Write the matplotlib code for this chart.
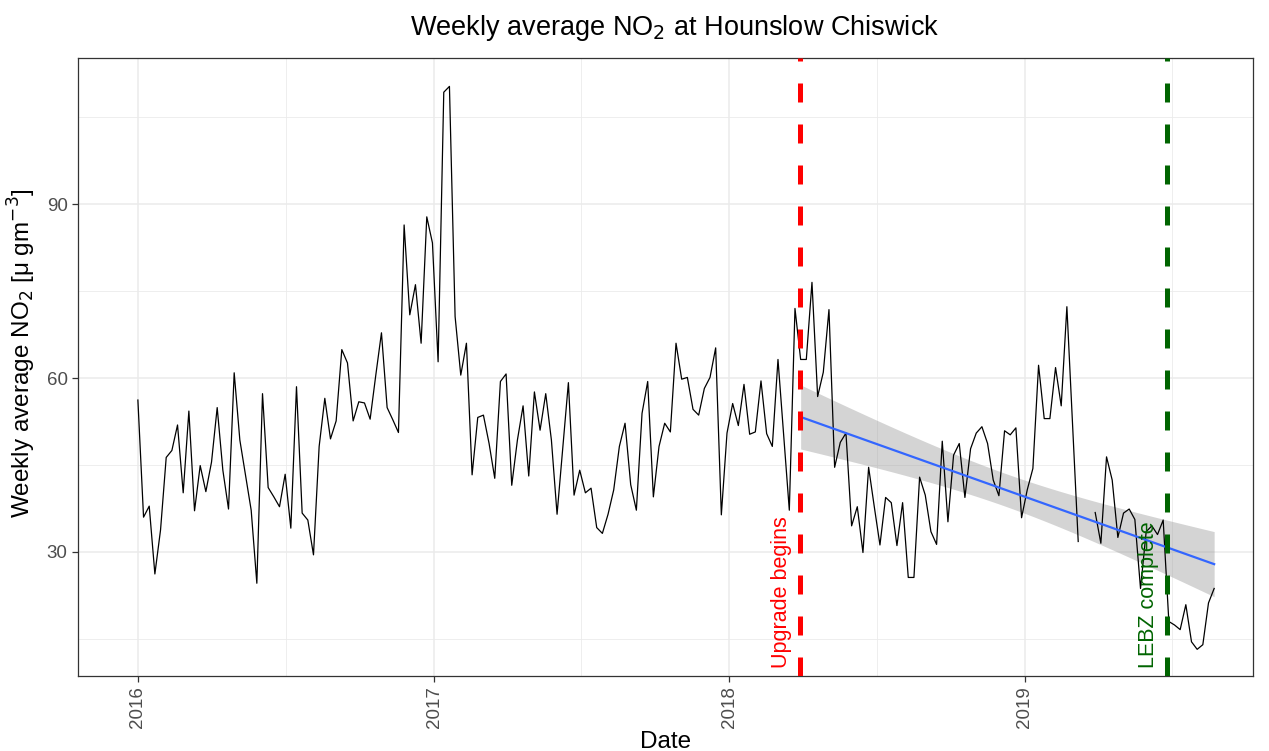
import numpy as np
import pandas as pd
import matplotlib
matplotlib.use("Agg")
import matplotlib.pyplot as plt
import matplotlib.dates as mdates

plt.rcParams['font.family'] = ['Liberation Sans', 'DejaVu Sans']

# ---- data ----
start_date = "2016-01-01"
no2_weekly = [
    56.2, 36.0, 37.9, 26.2, 33.8, 46.3, 47.5, 51.9, 40.2, 54.3,
    37.1, 44.9, 40.4, 45.5, 54.9, 44.1, 37.4, 60.9, 49.3, 43.3,
    37.2, 24.6, 57.3, 41.1, 39.5, 37.8, 43.4, 34.1, 58.5, 36.7,
    35.5, 29.5, 48.2, 56.5, 49.5, 52.6, 64.9, 62.6, 52.6, 55.9,
    55.7, 52.9, 60.5, 67.8, 54.9, 52.8, 50.6, 86.4, 70.9, 76.1,
    66.0, 87.8, 83.3, 62.8, 109.3, 110.3, 70.6, 60.5, 66.0, 43.3,
    53.2, 53.6, 48.7, 42.7, 59.4, 60.7, 41.5, 49.3, 55.2, 43.1,
    57.6, 51.0, 57.3, 49.3, 36.5, 47.9, 59.2, 39.8, 44.1, 40.2,
    41.0, 34.2, 33.2, 36.5, 40.7, 48.2, 52.2, 41.6, 37.2, 53.9,
    59.4, 39.5, 48.2, 52.2, 50.7, 66.0, 59.8, 60.1, 54.6, 53.6,
    58.2, 60.1, 65.2, 36.4, 50.5, 55.6, 51.8, 58.9, 50.3, 50.7,
    59.5, 50.4, 48.2, 63.2, 50.3, 37.2, 72.0, 63.2, 63.2, 76.5,
    56.8, 61.0, 71.8, 44.6, 48.9, 50.5, 34.5, 37.8, 29.9, 44.6,
    37.8, 31.2, 39.4, 38.5, 31.1, 38.5, 25.6, 25.6, 42.9, 39.8,
    33.5, 31.3, 49.1, 35.2, 46.7, 48.7, 39.4, 47.8, 50.5, 51.6,
    48.7, 42.4, 39.7, 50.9, 50.2, 51.4, 35.9, 40.7, 44.4, 62.2,
    53.0, 53.0, 61.8, 55.2, 72.3, 52.0, 31.8, np.nan, np.nan, 36.8,
    31.5, 46.4, 42.4, 32.5, 36.7, 37.4, 35.6, 23.7, 33.5, 34.5,
    33.0, 35.5, 18.0, 17.4, 16.6, 20.9, 14.5, 13.2, 14.0, 21.2,
    23.7,
]
upgrade_date = "2018-03-29"
lebz_date = "2019-06-26"
event_labels = ["Upgrade begins", "LEBZ complete"]
event_colors = ["#FF0000", "#006400"]
year_ticks = ["2016-01-01", "2017-01-01", "2018-01-01", "2019-01-01"]
year_labels = ["2016", "2017", "2018", "2019"]
y_ticks = [30, 60, 90]

dates = pd.date_range(start_date, periods=len(no2_weekly), freq="7D")
vals = np.array(no2_weekly, dtype=float)

# ---- linear fit after upgrade (ggplot geom_smooth(method='lm')) ----
up = pd.Timestamp(upgrade_date)
mask = (dates >= up) & ~np.isnan(vals)
xnum = mdates.date2num(dates[mask])
yfit_src = vals[mask]
n = len(xnum)
A = np.vstack([np.ones(n), xnum]).T
coef, res, *_ = np.linalg.lstsq(A, yfit_src, rcond=None)
resid = yfit_src - A @ coef
s2 = resid @ resid / (n - 2)
try:
    from scipy import stats
    tq = stats.t.ppf(0.975, n - 2)
except Exception:
    tq = 1.995
xg = np.linspace(xnum.min(), xnum.max(), 80)
Ag = np.vstack([np.ones_like(xg), xg]).T
XtXi = np.linalg.inv(A.T @ A)
se = np.sqrt(np.einsum('ij,jk,ik->i', Ag, XtXi, Ag) * s2)
yg = Ag @ coef

# ---- figure ----
fig = plt.figure(figsize=(12.69, 7.51), dpi=100)
ax = fig.add_axes([78 / 1269, 1 - 676 / 751, (1253 - 78) / 1269, (676 - 58) / 751])

ax.plot(dates, vals, color="black", lw=0.9, zorder=3)
ax.fill_between(mdates.num2date(xg), yg - tq * se, yg + tq * se,
                color="#999999", alpha=0.42, lw=0, zorder=2)
ax.plot(mdates.num2date(xg), yg, color="#3366FF", lw=1.6, zorder=4)

for d, lab, col in zip([upgrade_date, lebz_date], event_labels, event_colors):
    dt = pd.Timestamp(d)
    ax.axvline(dt, color=col, lw=3.6, dashes=(3.8, 4.4), zorder=5)
    ax.annotate(lab, xy=(dt, 10), xytext=(-13.5, 0), textcoords="offset points",
                rotation=90, color=col, fontsize=15.5, ha="center", va="bottom",
                zorder=6)

ax.set_xlim(pd.Timestamp("2015-10-19"), pd.Timestamp("2019-10-10"))
ax.set_ylim(8.6, 115.2)

ax.set_yticks(y_ticks)
ax.set_yticks([15, 45, 75, 105], minor=True)
ax.set_xticks(pd.to_datetime(year_ticks))
ax.set_xticklabels(year_labels, rotation=90)
ax.set_xticks(pd.to_datetime(["2016-07-02", "2017-07-02", "2018-07-02", "2019-07-02"]), minor=True)

ax.grid(True, which="major", color="#EBEBEB", lw=1.1, zorder=0)
ax.grid(True, which="minor", color="#EBEBEB", lw=0.6, zorder=0)
ax.set_axisbelow(True)
for sp in ax.spines.values():
    sp.set_color("#333333")
    sp.set_linewidth(0.9)
ax.tick_params(which="major", length=4, color="#333333", labelsize=13.5,
               labelcolor="#4D4D4D", width=0.9)
ax.tick_params(which="minor", length=0)

ax.set_xlabel("Date", fontsize=17.5, labelpad=2)
ax.set_ylabel("Weekly average NO$_2$ [μ gm$^{-3}$]", fontsize=17.5)
ax.yaxis.set_label_coords(-0.034, 0.523)
fig.suptitle("Weekly average NO$_2$ at Hounslow Chiswick", fontsize=19.5,
             x=675 / 1269, y=0.983)

fig.savefig("out.png", dpi=100)
